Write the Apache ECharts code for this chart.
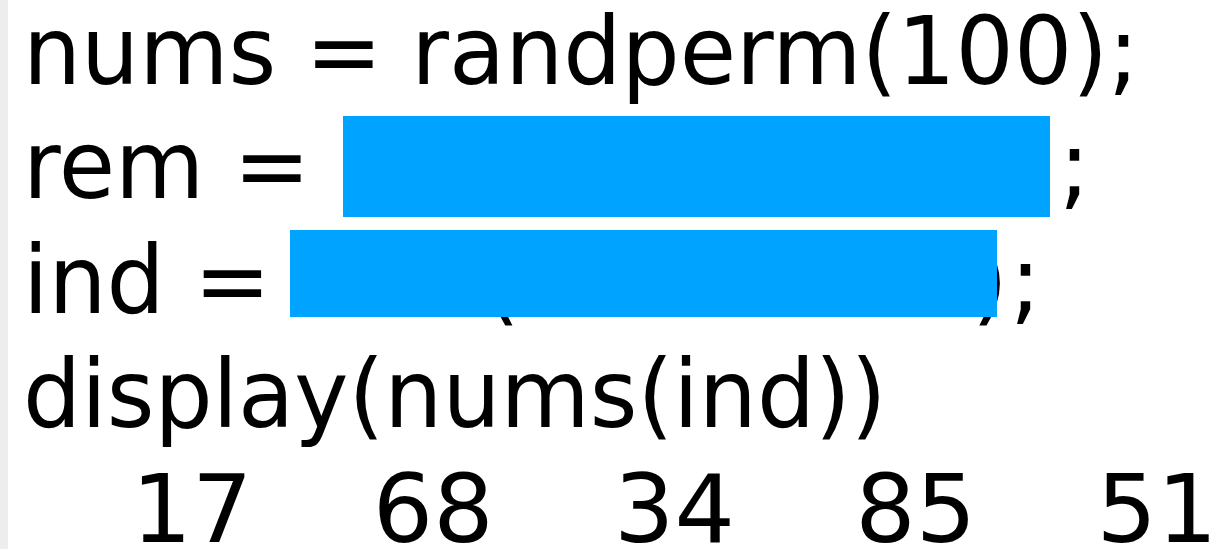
<!DOCTYPE html>
<html><head><meta charset="utf-8">
<script src="https://cdn.jsdelivr.net/npm/echarts@6/dist/echarts.min.js"></script>
<style>html,body{margin:0;padding:0;background:#fff}#c{width:1220px;height:549px}</style>
</head><body><div id="c"></div>
<script>
// code lines (text content)
const codeLines = ['nums = randperm(100);', 'rem =', 'ind =', 'display(nums(ind))'];
// displayed result values
const resultIdx = ['1', '2', '3', '4', '5'];
const resultVals = [17, 68, 34, 85, 51];

const FONT = 'DejaVu Sans';
const FS = 95;
const SX = 0.965;
const baselines = [87, 201.5, 316, 430.5];
const OFF = 28;

const chart = echarts.init(document.getElementById('c'), null, {renderer: 'canvas'});
const graphics = [
  {type: 'rect', shape: {x: 0, y: 0, width: 8, height: 549}, style: {fill: '#EDEDED'}, z: 1}
];
codeLines.forEach((t, i) => {
  graphics.push({type: 'text', x: 23, y: baselines[i] - OFF, scaleX: SX, z: 5,
    style: {text: t, x: 0, y: 0, font: FS + 'px "' + FONT + '"', fill: '#000', textAlign: 'left', textVerticalAlign: 'middle'}});
});
// semicolons after hidden parts
graphics.push({type: 'text', x: 1059, y: baselines[1] - OFF, scaleX: SX, z: 5,
  style: {text: ';', font: FS + 'px "' + FONT + '"', fill: '#000', textVerticalAlign: 'middle'}});
graphics.push({type: 'text', x: 1010, y: baselines[2] - OFF, scaleX: SX, z: 5,
  style: {text: ';', font: FS + 'px "' + FONT + '"', fill: '#000', textVerticalAlign: 'middle'}});
// partly hidden parentheses on line 3
graphics.push({type: 'text', x: 484, y: baselines[2] - OFF, scaleX: SX, z: 4,
  style: {text: '(', font: FS + 'px "' + FONT + '"', fill: '#000', textVerticalAlign: 'middle'}});
graphics.push({type: 'text', x: 972, y: baselines[2] - OFF, scaleX: SX, z: 4,
  style: {text: ')', font: FS + 'px "' + FONT + '"', fill: '#000', textVerticalAlign: 'middle'}});
// redaction boxes
graphics.push({type: 'rect', shape: {x: 343, y: 116, width: 707, height: 101}, style: {fill: '#00A3FF'}, z: 10});
graphics.push({type: 'rect', shape: {x: 290, y: 230, width: 707, height: 87}, style: {fill: '#00A3FF'}, z: 10});

chart.setOption({
  animation: false,
  backgroundColor: '#fff',
  grid: {left: 192, right: 63, top: 485, height: 64},
  xAxis: {type: 'category', data: resultIdx, boundaryGap: false, show: false},
  yAxis: {type: 'value', min: 0, max: 1, show: false},
  series: [{
    type: 'scatter', symbolSize: 0,
    itemStyle: {opacity: 1},
    data: resultVals.map((v, i) => [i, 0.5, v]),
    label: {show: true, position: 'inside', formatter: p => String(p.value[2]),
      fontFamily: FONT, fontSize: FS, color: '#000', opacity: 1}
  }],
  graphic: graphics
});
</script></body></html>
